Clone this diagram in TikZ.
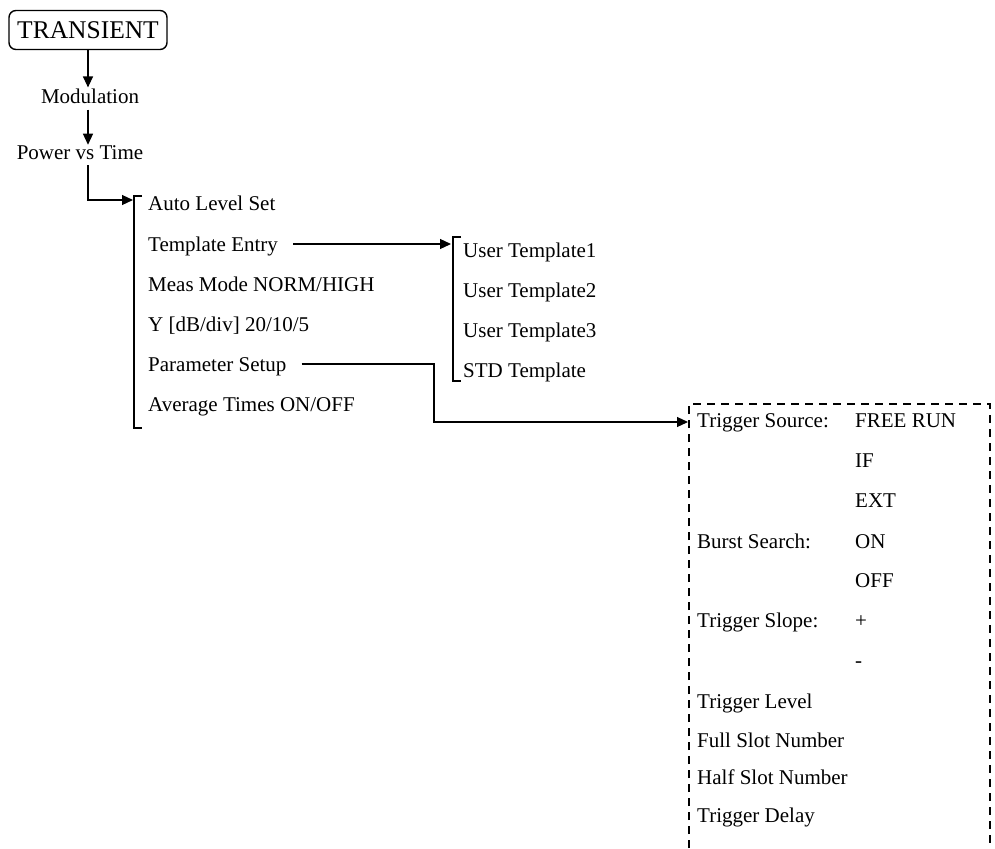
\documentclass[tikz,border=0pt]{standalone}
\usepackage{fontspec}
\setmainfont{Liberation Serif}
\usetikzlibrary{calc,arrows.meta}

\begin{document}
\begin{tikzpicture}[x=1pt,y=-1pt,
  lbl/.style={inner sep=1pt,font=\fontsize{21}{24}\selectfont},
  item/.style={anchor=base west,inner sep=0pt,text height=14pt,text depth=0pt,
               font=\fontsize{21}{24}\selectfont},
  arrow/.style={-{Stealth[length=11pt,width=10pt,inset=0pt]},line width=1.2pt},
  link/.style={line width=1.2pt},
  dashbox/.style={line width=1.2pt,dash pattern=on 8pt off 6pt}]
  \useasboundingbox (0,0) rectangle (995,848);
  % top of the menu tree
  \node[draw,rounded corners=7pt,line width=1.4pt,inner sep=0pt,
        minimum width=158pt,minimum height=39pt,
        font=\fontsize{25.5}{28}\selectfont] (tr) at (88,30) {TRANSIENT};
  \node[lbl] (mod) at (90,96) {Modulation};
  \node[lbl] (pvt) at (80,153) {Power vs Time};
  \draw[arrow] (tr.south) -- (tr.south |- mod.north);
  \draw[arrow] ([yshift=-5pt]tr.south |- mod.south) -- (tr.south |- pvt.north);
  % first list
  \coordinate (b1) at (133,200);
  \draw[arrow] ([yshift=-4pt]tr.south |- pvt.south) |- (b1);
  \draw[link] (142,196) -- (134,196) -- (134,428) -- (142,428);
  \node[item] (als) at (148,210) {Auto Level Set};
  \node[item] (te)  at (148,251) {Template Entry};
  \node[item] (mm)  at (148,291) {Meas Mode NORM/HIGH};
  \node[item] (yd)  at (148,331) {Y [dB/div] 20/10/5};
  \node[item] (ps)  at (148,371) {Parameter Setup};
  \node[item] (avg) at (148,411) {Average Times ON/OFF};
  % templates
  \coordinate (b2) at (451,245);
  \draw[arrow] ([xshift=15pt]te.east) -- (te.east -| b2);
  \draw[link] (461,237) -- (453,237) -- (453,381) -- (461,381);
  \node[item] (ut1) at (463,257) {User Template1};
  \node[item] (ut2) at (463,297) {User Template2};
  \node[item] (ut3) at (463,337) {User Template3};
  \node[item] (std) at (463,377) {STD Template};
  % parameter setup
  \coordinate (pk) at (434,422);
  \coordinate (pbox) at (688,422);
  \draw[arrow] ([xshift=15pt]ps.east) -| (pk) -- (pbox);
  \draw[dashbox] (689,848) -- (689,404) -- (990,404) -- (990,848);
  \node[item] (tsrc) at (697,427) {Trigger Source:};
  \node[item] (free) at (855,427) {FREE RUN};
  \node[item] (if)   at (855,467) {IF};
  \node[item] (ext)  at (855,507) {EXT};
  \node[item] (bsr)  at (697,548) {Burst Search:};
  \node[item] (on)   at (855,548) {ON};
  \node[item] (off)  at (855,587) {OFF};
  \node[item] (tslp) at (697,627) {Trigger Slope:};
  \node[item] (plus) at (855,627) {+};
  \node[item] (minus) at (855,667) {-};
  \node[item] (tlev) at (697,708) {Trigger Level};
  \node[item] (fsn)  at (697,747) {Full Slot Number};
  \node[item] (hsn)  at (697,784) {Half Slot Number};
  \node[item] (tdel) at (697,822) {Trigger Delay};
\end{tikzpicture}
\end{document}
